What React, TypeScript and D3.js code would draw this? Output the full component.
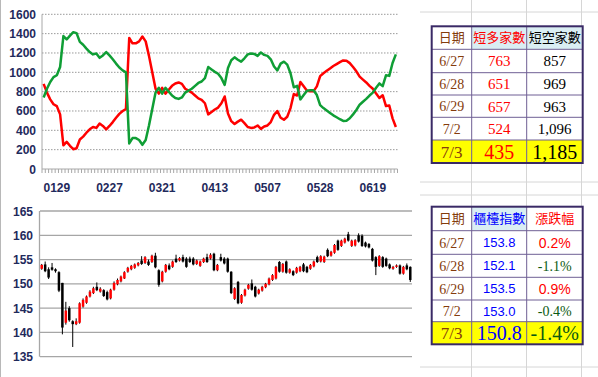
import React from 'react';
import * as d3 from 'd3';

// ---- Top chart: short-long / short-empty counts ----
const greenCnt = [740,830,900,950,970,1055,1375,1340,1380,1415,1405,1315,1285,1245,1210,1185,1195,1150,1175,1210,1175,1135,1090,1050,1020,1000,265,320,320,300,250,300,450,620,790,840,780,840,800,760,735,725,740,790,810,830,860,890,905,940,1055,1030,1005,985,940,870,1045,1125,1155,1130,1110,1145,1185,1195,1190,1170,1205,1180,1170,1135,1060,1020,1090,1110,1080,990,845,860,720,765,810,815,815,765,660,630,605,580,555,535,515,497,500,525,565,610,665,695,725,760,790,840,885,857,969,963,1096,1185];
const redCnt = [880,790,720,670,650,565,245,280,240,205,215,305,335,375,410,435,425,470,445,410,445,485,530,570,600,620,1355,1300,1300,1320,1370,1320,1170,1000,830,780,840,780,820,860,885,895,880,830,810,790,760,730,715,680,565,590,615,635,680,750,575,495,465,490,510,475,435,425,430,450,415,440,450,485,560,600,530,510,540,630,775,760,900,855,810,805,805,855,960,990,1015,1040,1065,1085,1105,1123,1120,1095,1055,1010,955,925,895,860,830,780,735,763,651,657,524,435];
const topTickIdx = [4,20,36,52,68,84,100];
const topTickLabels = ['0129','0227','0321','0413','0507','0528','0619'];
const topYTicks = [0,200,400,600,800,1000,1200,1400,1600];

// ---- Bottom chart: OTC index candles ----
const openP = [153.1,154.0,153.0,153.4,153.0,152.4,150.2,142.0,145.0,142.3,141.7,142.0,145.3,146.1,147.4,148.1,149.4,148.4,148.7,148.3,147.0,148.8,149.9,150.5,151.1,152.5,153.0,153.3,153.8,154.8,154.3,154.6,154.5,155.8,152.8,150.5,152.5,153.8,153.5,155.2,154.8,155.5,155.2,155.2,155.2,154.1,153.7,154.5,155.5,155.2,156.2,152.8,155.5,155.2,155.2,152.5,146.9,150.4,146.1,147.6,149.0,150.1,149.4,148.0,148.6,149.3,149.9,150.8,151.1,154.5,152.5,154.6,152.3,152.6,152.3,152.6,154.0,153.5,153.1,153.6,155.5,154.6,154.5,157.0,155.8,156.4,158.9,157.8,158.5,160.2,157.8,157.9,160.0,159.9,158.5,158.2,157.2,155.5,153.7,155.5,155.2,154.0,153.1,153.5,153.8,152.1,153.8,153.5];
const closeP = [153.9,152.6,151.3,152.9,152.6,148.6,141.0,144.5,142.5,141.7,142.3,146.0,146.7,147.4,148.4,149.1,148.7,149.0,147.5,146.8,148.8,150.2,150.8,151.5,152.4,153.3,153.7,154.0,154.3,154.1,155.5,153.9,155.8,153.4,149.8,152.5,153.9,153.0,154.6,154.5,155.3,154.6,153.5,154.5,154.0,154.8,154.6,155.2,154.5,156.0,152.8,153.9,154.8,154.2,152.5,148.1,149.1,146.0,147.7,148.8,149.8,148.8,147.4,148.8,149.4,150.0,151.1,151.8,153.5,152.5,154.1,152.3,153.0,151.8,153.3,153.5,152.6,152.4,153.9,154.6,154.5,155.7,155.6,155.7,156.6,158.0,157.0,158.9,159.3,158.9,158.9,159.0,158.7,157.8,157.7,157.5,154.8,153.5,155.7,153.5,153.7,153.2,153.5,153.8,152.1,153.5,153.0,150.8];
const highP = [154.1,154.6,153.4,154.3,153.2,152.6,150.2,146.3,145.4,142.5,142.9,146.2,147.0,147.6,148.7,149.4,150.3,149.3,148.9,148.6,149.0,150.5,151.1,151.7,152.6,153.5,153.9,154.2,154.5,155.7,155.7,155.0,156.0,156.4,153.0,152.7,154.1,154.2,154.8,156.0,155.5,156.0,155.5,155.6,155.5,155.0,154.8,155.4,156.2,156.3,156.4,154.1,156.2,155.5,155.4,152.6,149.3,150.6,147.9,149.0,150.0,150.9,149.6,149.0,149.6,150.2,151.3,152.0,153.7,154.7,154.3,154.8,153.2,152.8,153.5,153.7,154.3,153.7,154.1,154.8,155.8,155.9,155.8,157.3,156.8,158.2,159.1,159.1,159.5,160.7,159.1,159.2,160.4,160.2,158.7,158.4,157.4,155.7,155.9,155.7,155.4,154.2,153.7,154.0,154.0,153.7,154.2,153.6];
const lowP = [152.9,152.4,151.0,152.7,152.3,148.3,139.6,141.6,142.2,137.0,141.5,141.8,145.1,145.9,147.2,147.9,148.5,148.2,147.3,146.6,146.8,148.6,149.7,150.3,151.0,152.3,152.8,153.1,153.6,153.9,154.1,153.7,154.3,153.2,149.4,150.3,152.3,152.8,153.3,154.3,154.6,154.4,153.3,154.3,153.8,153.9,153.5,154.3,154.3,155.0,152.6,152.6,154.6,154.0,152.3,147.9,146.7,145.8,145.9,147.4,148.8,148.6,147.2,147.8,148.4,149.1,149.7,150.6,150.9,152.3,152.3,152.1,152.1,151.6,152.1,152.4,152.4,152.2,152.9,153.4,154.3,154.4,154.3,155.5,155.6,156.2,156.8,157.6,158.3,158.7,157.6,157.7,158.5,157.6,157.5,157.3,154.6,151.8,153.5,153.3,153.5,153.0,152.9,153.3,151.9,151.9,152.8,150.4];
const botYTicks = [135,140,145,150,155,160,165];

// ---- Tables ----
const tblDates = ['6/27','6/28','6/29','7/2','7/3'];
const longVals = [763,651,657,524,435];
const shortVals = [857,969,963,1096,1185];
const idxVals = [153.8,152.1,153.5,153.0,150.8];
const chgVals = [0.2,-1.1,0.9,-0.4,-1.4];

const colX = [431.7,471.7,526.7,582.7];
const rows1 = [26.3,49.3,72.7,95,117.3,140,163];
const rows2 = [206.7,230.7,254.3,277.3,300,321.7,344.3];

const NAVY = '#1f2a5c';
const BROWN = '#843c0c';
const SERIF = '"Liberation Serif","Times New Roman",serif';
const SANS = '"Liberation Sans",Arial,sans-serif';
const CJK = '"Noto Sans CJK TC","Noto Sans CJK SC",sans-serif';

type Cell = { text: string; color: string; font: string; size: number; bg?: string };

function Table({ rows, header, body }: { rows: number[]; header: Cell[]; body: Cell[][] }) {
  const all = [header, ...body];
  return (
    <g>
      {all.map((r, ri) =>
        r.map((c, ci) => (
          <rect key={`b${ri}-${ci}`} x={colX[ci]} y={rows[ri]} width={colX[ci + 1] - colX[ci]} height={rows[ri + 1] - rows[ri]}
            fill={ri === all.length - 1 ? '#ffff00' : c.bg || '#ffffff'} />
        ))
      )}
      {rows.slice(1, -1).map((y, i) => (
        <line key={`h${i}`} x1={colX[0]} x2={colX[3]} y1={y} y2={y} stroke="#6f5f94" strokeWidth={1} />
      ))}
      {colX.slice(1, -1).map((x, i) => (
        <line key={`v${i}`} x1={x} x2={x} y1={rows[0]} y2={rows[rows.length - 1]} stroke="#6f5f94" strokeWidth={1} />
      ))}
      <rect x={colX[0]} y={rows[0]} width={colX[3] - colX[0]} height={rows[rows.length - 1] - rows[0]} fill="none" stroke="#3a2a66" strokeWidth={2} />
      {all.map((r, ri) =>
        r.map((c, ci) => (
          <text key={`t${ri}-${ci}`} x={(colX[ci] + colX[ci + 1]) / 2} y={(rows[ri] + rows[ri + 1]) / 2 + c.size * 0.36}
            textAnchor="middle" fill={c.color} fontFamily={c.font} fontSize={c.size}>{c.text}</text>
        ))
      )}
    </g>
  );
}

export default function App() {
  const n = greenCnt.length;
  const xT = d3.scaleBand<number>().domain(d3.range(n)).range([42, 397.5]);
  const yT = d3.scaleLinear().domain([0, 1600]).range([169, 14.3]);
  const cx = (i: number) => (xT(i) as number) + xT.bandwidth() / 2;
  const line = d3.line<number>().x((_, i) => cx(i)).y((d) => yT(d));

  const m = openP.length;
  const xB = d3.scaleBand<number>().domain(d3.range(m)).range([40, 412]);
  const yB = d3.scaleLinear().domain([135, 165]).range([356.7, 211]);
  const bw = 2.5;
  const fmt = d3.format(',');

  const last = tblDates.length - 1;
  const body1: Cell[][] = tblDates.map((d, i) => {
    const big = i === last;
    return [
      { text: d, color: BROWN, font: SERIF, size: big ? 17 : 14 },
      { text: String(longVals[i]), color: '#ff0000', font: SERIF, size: big ? 20 : 15 },
      { text: fmt(shortVals[i]), color: '#000000', font: SERIF, size: big ? 20 : 15 },
    ];
  });
  const body2: Cell[][] = tblDates.map((d, i) => {
    const big = i === last;
    const pos = chgVals[i] >= 0;
    return [
      { text: d, color: BROWN, font: SERIF, size: big ? 17 : 14 },
      { text: idxVals[i].toFixed(1), color: '#0000ff', font: big ? SERIF : SANS, size: big ? 20 : 13 },
      { text: `${chgVals[i].toFixed(1)}%`, color: pos ? '#ff0000' : '#0b5a12', font: big ? SERIF : (pos ? SANS : SERIF), size: big ? 20 : 14 },
    ];
  });

  return (
    <svg width={598} height={377} style={{ position: 'absolute', left: 0, top: 0, background: '#fff' }}>
      <rect x={0} y={0} width={598} height={377} fill="#fff" />
      {/* excel grid on the right */}
      {[471.5, 526.5, 581.5].map((x) => (
        <line key={x} x1={x} x2={x} y1={0} y2={377} stroke="#d6d6d6" />
      ))}
      {[12, 182, 195, 367].map((y) => (
        <line key={y} x1={420} x2={598} y1={y} y2={y} stroke="#d6d6d6" />
      ))}
      <line x1={0.5} x2={0.5} y1={0} y2={377} stroke="#b8b8b8" />

      {/* top chart */}
      {topYTicks.filter((t) => t > 0).map((t) => (
        <line key={t} x1={42} x2={397.5} y1={yT(t)} y2={yT(t)} stroke="#9a9a9a" strokeDasharray="1.5,1.5" />
      ))}
      <line x1={42} x2={42} y1={yT(1600)} y2={yT(0)} stroke="#a8a8a8" />
      <line x1={42} x2={397.5} y1={yT(0)} y2={yT(0)} stroke="#a8a8a8" />
      {d3.range(n + 1).map((i) => {
        const x = i < n ? (xT(i) as number) : 397.5;
        return <line key={i} x1={x} x2={x} y1={yT(0)} y2={yT(0) + 4} stroke="#a8a8a8" />;
      })}
      {topYTicks.map((t) => (
        <text key={t} x={36} y={yT(t) + 4.5} textAnchor="end" fill={NAVY} fontFamily={SANS} fontWeight="bold" fontSize={12}>{t}</text>
      ))}
      {topTickIdx.map((ix, k) => (
        <text key={ix} x={cx(ix)} y={191.5} textAnchor="middle" fill={NAVY} fontFamily={SANS} fontWeight="bold" fontSize={12}>{topTickLabels[k]}</text>
      ))}
      <path d={line(redCnt) || ''} fill="none" stroke="#ff0000" strokeWidth={2.5} strokeLinejoin="round" />
      <path d={line(greenCnt) || ''} fill="none" stroke="#0f9e35" strokeWidth={2.5} strokeLinejoin="round" />

      {/* bottom chart */}
      {botYTicks.map((t) => (
        <line key={t} x1={40} x2={412} y1={yB(t)} y2={yB(t)} stroke="#a6a6a6" strokeWidth={1.3} />
      ))}
      <line x1={39.5} x2={39.5} y1={yB(165)} y2={yB(135)} stroke="#a6a6a6" strokeWidth={1.3} />
      {botYTicks.map((t) => (
        <text key={t} x={33} y={yB(t) + 4.5} textAnchor="end" fill={NAVY} fontFamily={SANS} fontWeight="bold" fontSize={12}>{t}</text>
      ))}
      {d3.range(m).map((i) => {
        const x = (xB(i) as number) + xB.bandwidth() / 2;
        const up = closeP[i] >= openP[i];
        const col = up ? '#ff0000' : '#000000';
        const top = yB(Math.max(openP[i], closeP[i]));
        const bot = yB(Math.min(openP[i], closeP[i]));
        return (
          <g key={i}>
            <line x1={x} x2={x} y1={yB(highP[i])} y2={yB(lowP[i])} stroke="#000" strokeWidth={1} />
            <rect x={x - bw / 2} y={top} width={bw} height={Math.max(1, bot - top)} fill={col} />
          </g>
        );
      })}

      {/* tables */}
      <Table rows={rows1}
        header={[
          { text: '日期', color: BROWN, font: CJK, size: 13 },
          { text: '短多家數', color: '#ff0000', font: CJK, size: 13, bg: '#daeef3' },
          { text: '短空家數', color: '#000000', font: CJK, size: 13, bg: '#daeef3' },
        ]}
        body={body1} />
      <Table rows={rows2}
        header={[
          { text: '日期', color: BROWN, font: CJK, size: 13 },
          { text: '櫃檯指數', color: '#0000ff', font: CJK, size: 13, bg: '#daeef3' },
          { text: '漲跌幅', color: '#ff0000', font: CJK, size: 13 },
        ]}
        body={body2} />
    </svg>
  );
}
